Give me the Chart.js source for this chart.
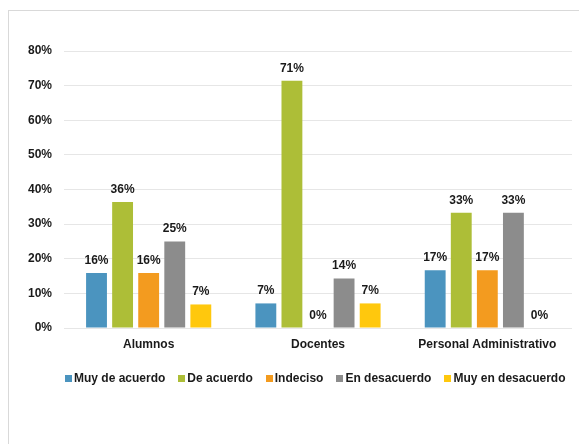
<!DOCTYPE html>
<html>
<head>
<meta charset="utf-8">
<script src="https://cdn.jsdelivr.net/npm/chart.js@4"></script>
<style>
  html, body { margin: 0; padding: 0; background: #fff; overflow: hidden; }
  body { width: 579px; height: 444px; position: relative; font-family: "Liberation Sans", Arial, sans-serif; }
  .frame { position: absolute; left: 8px; top: 10px; width: 700px; height: 700px; border: 1px solid #d9d9d9; }
  #wrap { position: absolute; left: 0; top: 0; width: 579px; height: 444px; }
  #legend { position: absolute; left: 65px; top: 371px; display: flex; gap: 13px; white-space: nowrap;
            font-size: 12px; font-weight: bold; color: #1a1a1a; line-height: 15px; }
  #legend span.item { display: flex; align-items: center; }
  #legend i { display: inline-block; width: 7px; height: 7px; margin-right: 2px; }
</style>
</head>
<body>
<div class="frame"></div>
<div id="wrap"><canvas id="chart"></canvas></div>
<div id="legend"></div>
<script>
// Data
const categories = ['Alumnos', 'Docentes', 'Personal Administrativo'];
const seriesNames = ['Muy de acuerdo', 'De acuerdo', 'Indeciso', 'En desacuerdo', 'Muy en desacuerdo'];
const muyDeAcuerdo = [15.9, 7.1, 16.7];
const deAcuerdo = [36.4, 71.4, 33.3];
const indeciso = [15.9, 0, 16.7];
const enDesacuerdo = [25.0, 14.3, 33.3];
const muyEnDesacuerdo = [6.8, 7.1, 0];
const yTicks = [0, 10, 20, 30, 40, 50, 60, 70, 80];

const colors = ['#4b94bf', '#adbe37', '#f39b1f', '#8c8c8c', '#ffc80d'];
const FONT = '"Liberation Sans", Arial, sans-serif';
const seriesValues = [muyDeAcuerdo, deAcuerdo, indeciso, enDesacuerdo, muyEnDesacuerdo];

// Value labels above each bar
const barLabels = {
    id: 'barLabels',
    afterDatasetsDraw(chart) {
        const ctx = chart.ctx;
        ctx.save();
        ctx.font = 'bold 12px ' + FONT;
        ctx.fillStyle = '#1a1a1a';
        ctx.textAlign = 'center';
        ctx.textBaseline = 'middle';
        chart.data.datasets.forEach((ds, i) => {
            chart.getDatasetMeta(i).data.forEach((bar, j) => {
                ctx.fillText(Math.round(ds.data[j]) + '%', bar.x, bar.y - 12.5);
            });
        });
        ctx.restore();
    }
};

// Legend as plain html, same order and colours as the datasets
document.getElementById('legend').innerHTML = seriesNames.map((name, i) =>
    `<span class="item"><i style="background:${colors[i]}"></i>${name}</span>`
).join('');

new Chart(document.getElementById('chart'), {
    type: 'bar',
    data: {
        labels: categories,
        datasets: seriesNames.map((name, i) => ({
            label: name,
            data: seriesValues[i],
            backgroundColor: colors[i],
            categoryPercentage: 0.77,
            barPercentage: 0.8
        }))
    },
    options: {
        responsive: true,
        maintainAspectRatio: false,
        animation: false,
        layout: { padding: { left: 15, right: 7, top: 51, bottom: 82 } },
        plugins: {
            legend: { display: false },
            tooltip: { enabled: false }
        },
        scales: {
            x: {
                grid: { display: false },
                border: { display: false },
                ticks: {
                    padding: 1,
                    color: '#1a1a1a',
                    font: { family: FONT, size: 12, weight: 'bold' }
                },
                afterFit: s => { s.height = 34; }
            },
            y: {
                min: 0,
                max: 80,
                afterBuildTicks: s => { s.ticks = yTicks.map(v => ({ value: v })); },
                grid: { color: '#e6e6e6', drawTicks: false },
                border: { display: false },
                ticks: {
                    padding: 12,
                    color: '#1a1a1a',
                    font: { family: FONT, size: 12, weight: 'bold' },
                    callback: v => v + '%'
                },
                afterFit: s => { s.width = 49; }
            }
        }
    },
    plugins: [barLabels]
});
</script>
</body>
</html>
